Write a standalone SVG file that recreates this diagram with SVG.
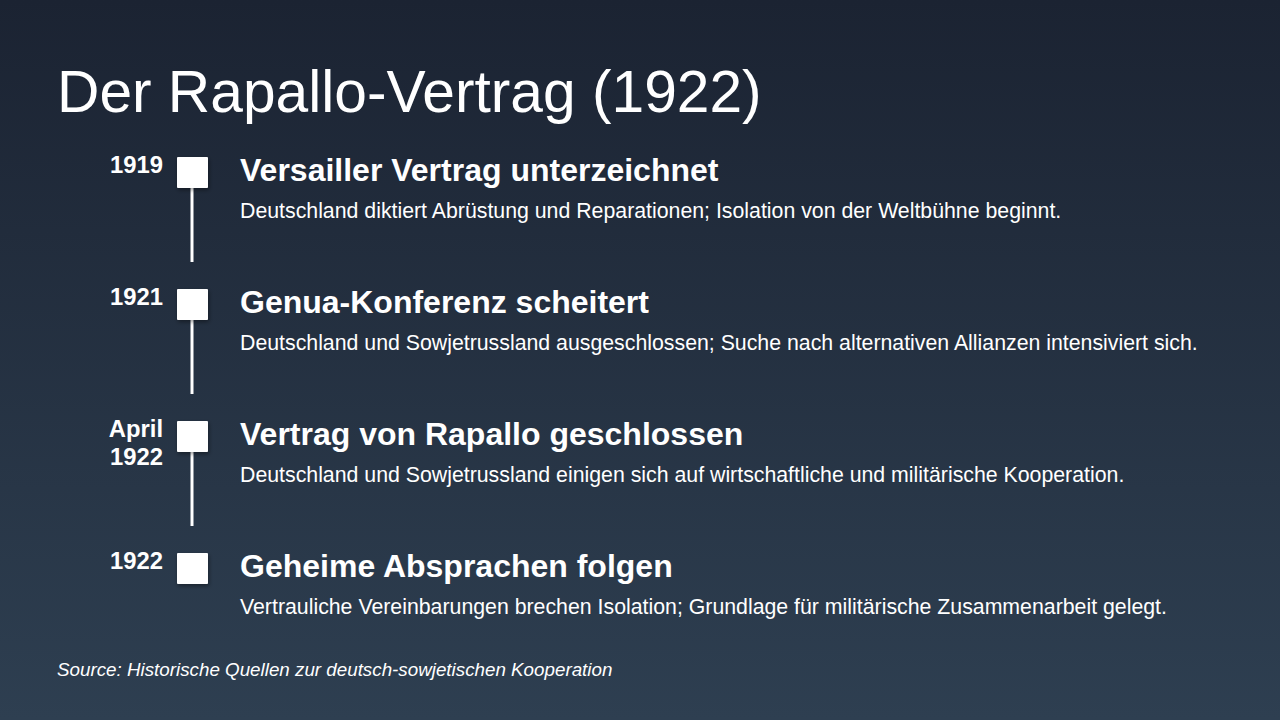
<svg xmlns="http://www.w3.org/2000/svg" width="1280" height="720" viewBox="0 0 1280 720">
<defs>
<linearGradient id="bg" x1="0" y1="0" x2="0" y2="1">
<stop offset="0" stop-color="#1b2332"/>
<stop offset="1" stop-color="#2e3f51"/>
</linearGradient>
<filter id="sh" x="-30%" y="-30%" width="160%" height="160%">
<feDropShadow dx="1" dy="2" stdDeviation="2" flood-color="#000" flood-opacity="0.4"/>
</filter>
<style>
text{font-family:"Liberation Sans",Arial,sans-serif;fill:#fff}
.title{font-size:58.7px}
.year{font-size:23.8px;font-weight:bold;text-anchor:end}
.head{font-size:32px;font-weight:bold}
.desc{font-size:21.3px}
.src{font-size:18.8px;font-style:italic}
.box{fill:#fff;filter:url(#sh)}
.line{stroke:#fff;stroke-width:3}
</style>
</defs>
<rect width="1280" height="720" fill="url(#bg)"/>
<text class="title" x="57" y="112">Der Rapallo-Vertrag (1922)</text>
<g id="connectors">
<line class="line" x1="192" y1="188" x2="192" y2="262"/>
<line class="line" x1="192" y1="320" x2="192" y2="394"/>
<line class="line" x1="192" y1="452" x2="192" y2="526"/>
</g>
<g id="event1">
<text class="year" x="163" y="173">1919</text>
<rect class="box" x="177" y="157" width="31" height="31" rx="1"/>
<text class="head" x="240" y="181">Versailler Vertrag unterzeichnet</text>
<text class="desc" x="240" y="218">Deutschland diktiert Abrüstung und Reparationen; Isolation von der Weltbühne beginnt.</text>
</g>
<g id="event2">
<text class="year" x="163" y="305">1921</text>
<rect class="box" x="177" y="289" width="31" height="31" rx="1"/>
<text class="head" x="240" y="313">Genua-Konferenz scheitert</text>
<text class="desc" x="240" y="350">Deutschland und Sowjetrussland ausgeschlossen; Suche nach alternativen Allianzen intensiviert sich.</text>
</g>
<g id="event3">
<text class="year" x="163" y="437">April</text>
<text class="year" x="163" y="465">1922</text>
<rect class="box" x="177" y="421" width="31" height="31" rx="1"/>
<text class="head" x="240" y="445">Vertrag von Rapallo geschlossen</text>
<text class="desc" x="240" y="482">Deutschland und Sowjetrussland einigen sich auf wirtschaftliche und militärische Kooperation.</text>
</g>
<g id="event4">
<text class="year" x="163" y="569">1922</text>
<rect class="box" x="177" y="553" width="31" height="31" rx="1"/>
<text class="head" x="240" y="577">Geheime Absprachen folgen</text>
<text class="desc" x="240" y="614">Vertrauliche Vereinbarungen brechen Isolation; Grundlage für militärische Zusammenarbeit gelegt.</text>
</g>
<text class="src" x="57" y="676">Source: Historische Quellen zur deutsch-sowjetischen Kooperation</text>
</svg>
